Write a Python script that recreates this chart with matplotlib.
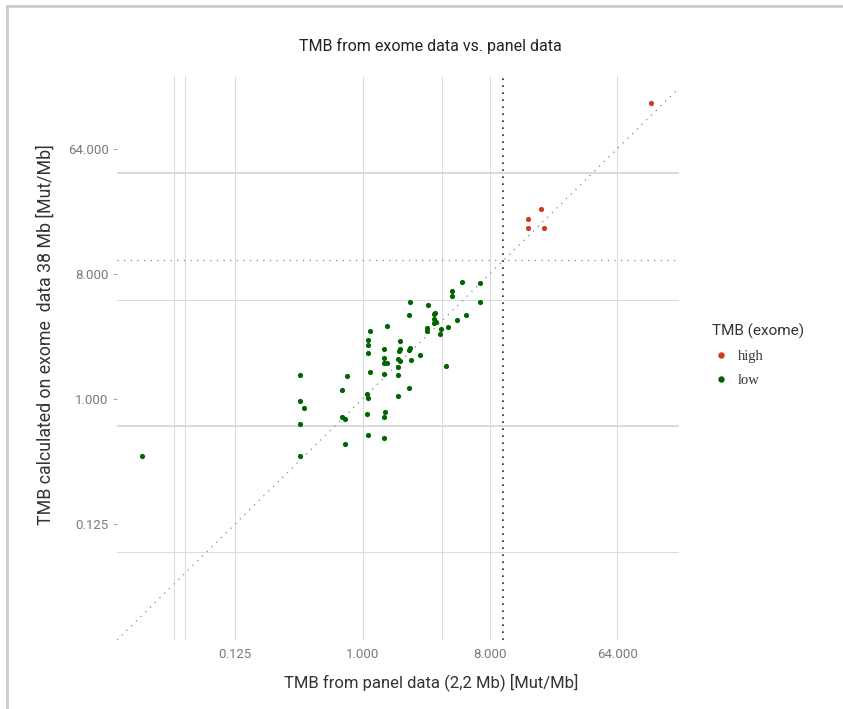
import matplotlib
matplotlib.use('Agg')
import matplotlib.pyplot as plt
from matplotlib.lines import Line2D

# ---- data ----
panel_high = [110.8, 18.36, 14.99, 15.0, 19.47]
exome_high = [138.4, 23.4, 20.05, 17.27, 17.06]

panel_low = [5.05, 6.81, 4.28, 4.31, 6.81, 2.18, 2.89, 3.26, 3.19, 2.14,
             5.39, 3.21, 4.65, 3.31, 3.19, 1.49, 4.01, 2.86, 2.86, 3.58,
             3.56, 1.13, 1.10, 1.10, 1.84, 1.43, 2.16, 2.14, 1.84, 1.80,
             1.10, 2.55, 1.43, 1.79, 1.84, 2.19, 1.43, 1.49, 1.79, 3.92,
             1.13, 1.43, 1.79, 0.361, 0.774, 2.14, 0.716, 1.08, 1.10, 1.79,
             0.361, 0.387, 1.45, 1.43, 1.08, 0.716, 0.745, 0.361, 1.10, 1.43,
             0.745, 0.361, 0.027]
exome_low = [6.96, 6.85, 6.03, 5.52, 4.99, 5.03, 4.73, 4.14, 4.09, 4.02,
             4.02, 3.75, 3.70, 3.58, 3.52, 3.35, 3.32, 3.23, 3.10, 3.21,
             2.93, 3.10, 2.64, 2.46, 2.61, 2.31, 2.33, 2.25, 2.29, 2.20,
             2.13, 2.08, 1.96, 1.94, 1.87, 1.90, 1.82, 1.83, 1.70, 1.72,
             1.56, 1.51, 1.48, 1.48, 1.45, 1.20, 1.15, 1.08, 1.02, 1.04,
             0.959, 0.854, 0.799, 0.744, 0.773, 0.744, 0.715, 0.662, 0.552, 0.521,
             0.470, 0.387, 0.387]

threshold_panel = 10
threshold_exome = 10

tick_values = [0.125, 1, 8, 64]
tick_labels = ['0.125', '1.000', '8.000', '64.000']

vgrid_values = [0.046, 0.055, 0.125, 1, 3.66, 8, 64]
hgrid_major = [42.5, 0.636]
hgrid_minor = [5.2, 0.078]

legend_labels = ['high', 'low']
col_high = '#cf3a1c'
col_low = '#006400'

# ---- figure ----
W, H = 843, 709
fig = plt.figure(figsize=(W / 100, H / 100), dpi=100)
fig.patch.set_facecolor('white')

cond = ['Roboto', 'DejaVu Sans']
serif = ['Liberation Serif', 'DejaVu Serif']

ax = fig.add_axes([117 / W, 1 - 640 / H, (679 - 117) / W, (640 - 76) / H])
ax.set_xscale('log', base=2)
ax.set_yscale('log', base=2)
ax.set_xlim(2 ** -5.79, 2 ** 7.46)
ax.set_ylim(2 ** -5.79, 2 ** 7.75)

for s in ax.spines.values():
    s.set_visible(False)

for v in vgrid_values:
    ax.axvline(v, color='#dcdcdc', lw=0.8, zorder=0)
for v in hgrid_major:
    ax.axhline(v, color='#d9d9d9', lw=1.4, zorder=0)
for v in hgrid_minor:
    ax.axhline(v, color='#dcdcdc', lw=0.8, zorder=0)

# reference lines
ax.axline((1, 1), (2, 2), color='#888888', lw=0.9, ls=(0, (1, 4.3)), zorder=1)
ax.axvline(threshold_panel, color='#222222', lw=1.2, ls=(0, (1, 3.2)), zorder=1)
ax.axhline(threshold_exome, color='#888888', lw=0.9, ls=(0, (1, 4.3)), zorder=1)

ax.scatter(panel_low, exome_low, s=14, color=col_low, zorder=3, linewidths=0)
ax.scatter(panel_high, exome_high, s=14, color=col_high, zorder=3, linewidths=0)

ax.set_xticks(tick_values)
ax.set_xticklabels(tick_labels)
ax.set_yticks(tick_values)
ax.set_yticklabels(tick_labels)
ax.minorticks_off()
ax.tick_params(axis='x', length=0, pad=6, labelsize=9.5, labelcolor='#7a7a7a')
ax.tick_params(axis='y', length=3, width=0.8, color='#aaaaaa', pad=3,
               labelsize=9.5, labelcolor='#7a7a7a')
for lab in ax.get_xticklabels() + ax.get_yticklabels():
    lab.set_family(cond)

fig.text(430 / W, 1 - 46 / H, 'TMB from exome data vs. panel data',
         ha='center', va='center', fontsize=11.5, color='#222222', family=cond)
fig.text(431 / W, 1 - 682 / H, 'TMB from panel data (2,2 Mb) [Mut/Mb]',
         ha='center', va='center', fontsize=12, color='#333333', family=cond)
fig.text(46 / W, 1 - 335 / H, 'TMB calculated on exome  data 38 Mb [Mut/Mb]',
         ha='center', va='center', rotation=90, fontsize=12.8, color='#333333',
         family=cond)

handles = [Line2D([], [], ls='', marker='o', markersize=3.6, color=col_high),
           Line2D([], [], ls='', marker='o', markersize=3.6, color=col_low)]
leg = fig.legend(handles, legend_labels, title='TMB (exome)',
                 loc='upper left', bbox_to_anchor=(706 / W, 1 - 318 / H),
                 frameon=False, handletextpad=0.6, labelspacing=0.75,
                 handlelength=1.2, borderaxespad=0,
                 prop={'family': serif, 'size': 10.5},
                 title_fontproperties={'family': cond, 'size': 11})
leg._legend_box.align = 'left'
for t in leg.get_texts():
    t.set_color('#333333')
leg.get_title().set_color('#333333')

# outer border (top and left)
fig.add_artist(Line2D([6.5 / W, 1], [1 - 5.5 / H, 1 - 5.5 / H],
                      transform=fig.transFigure, color='#cccccc', lw=2))
fig.add_artist(Line2D([6.5 / W, 6.5 / W], [0, 1 - 5.5 / H],
                      transform=fig.transFigure, color='#cccccc', lw=2))

fig.savefig('out.png', dpi=100)
